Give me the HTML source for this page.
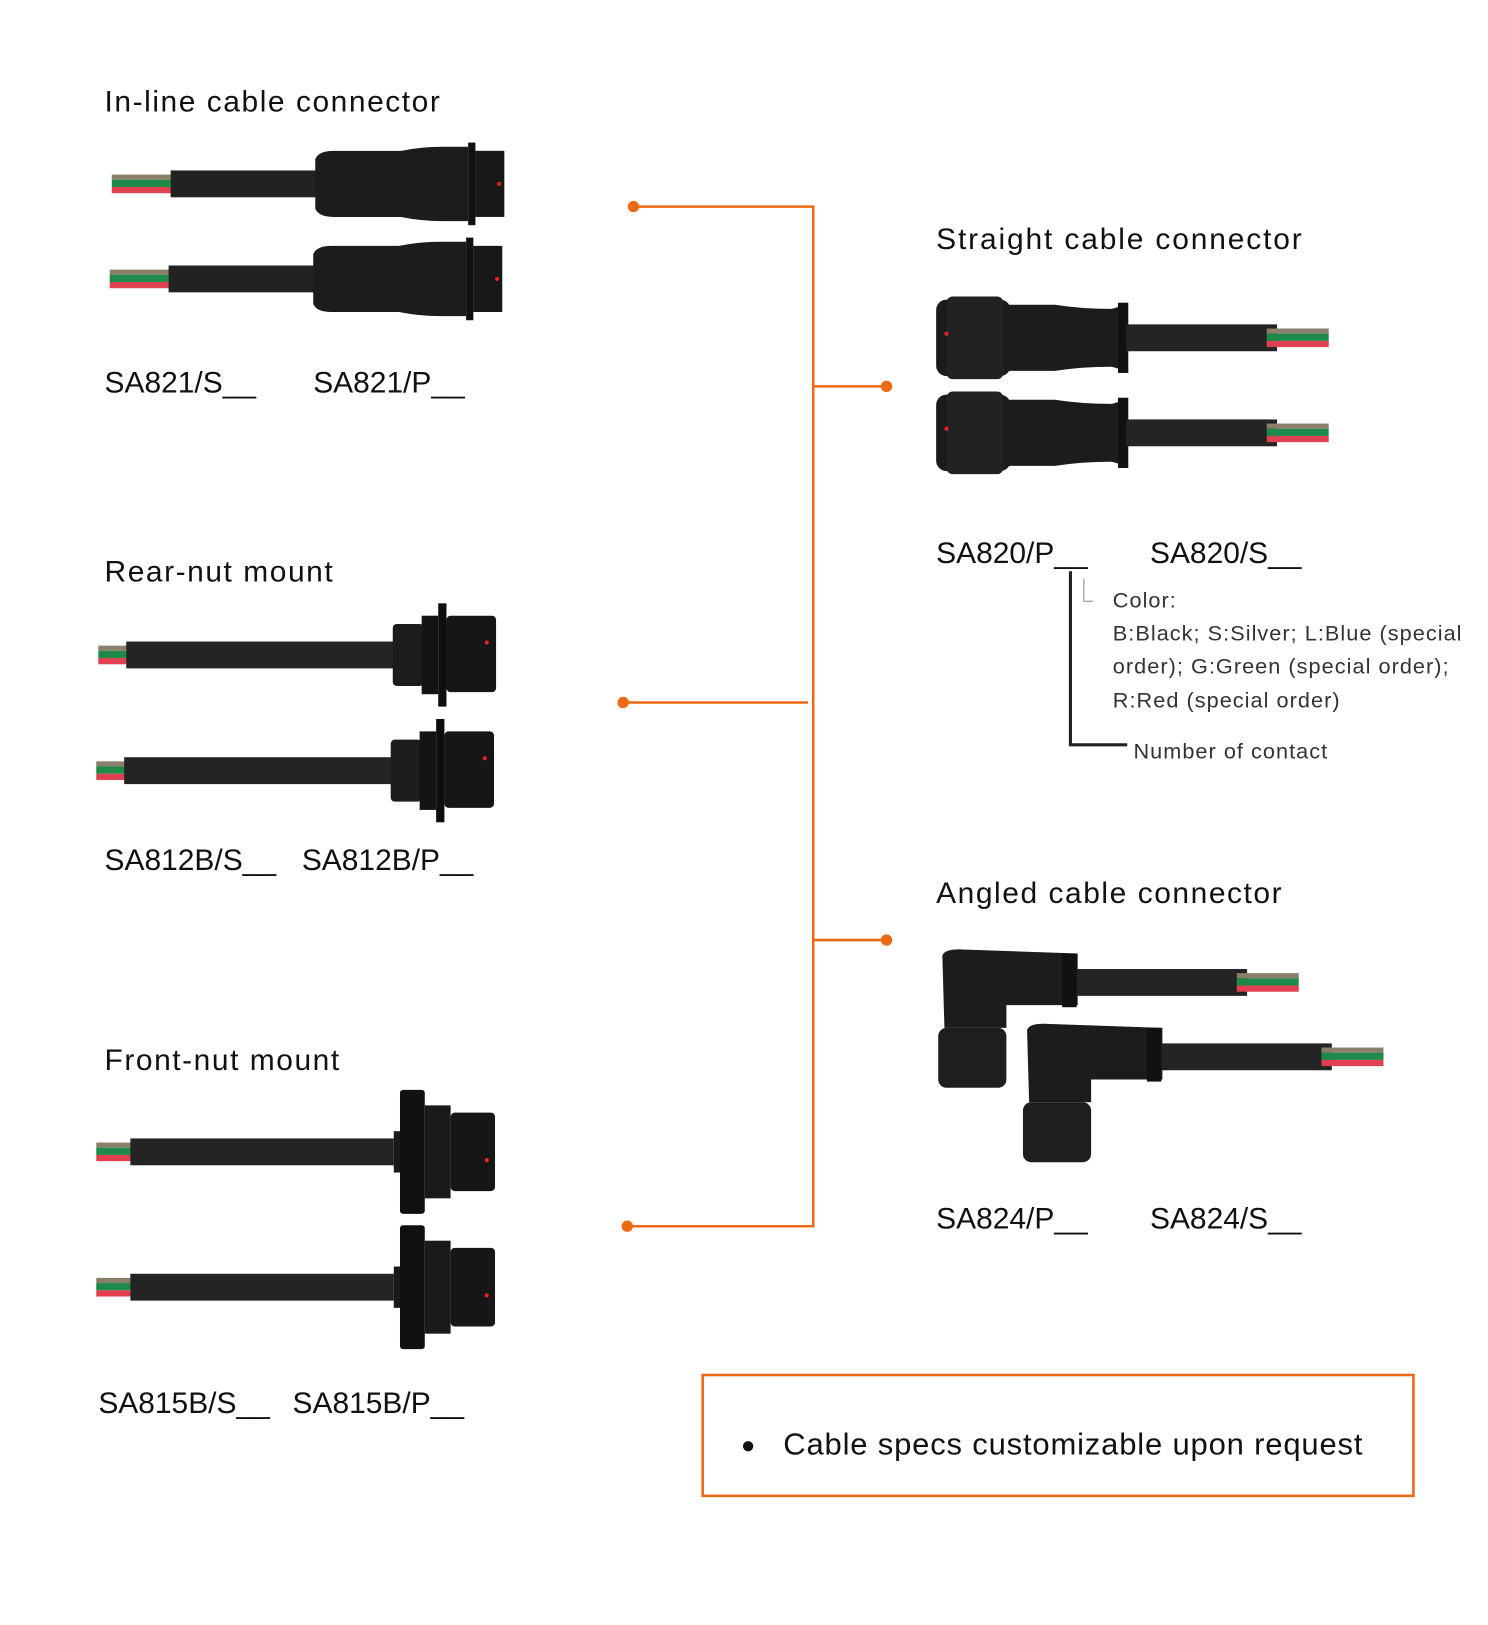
<!DOCTYPE html>
<html><head><meta charset="utf-8"><style>
html,body{margin:0;padding:0;background:#fff;width:1488px;height:1625px;overflow:hidden}
svg{display:block}
text{font-family:"Liberation Sans",sans-serif;fill:#111}
.t{letter-spacing:1.5px}
</style></head><body>
<svg width="1488" height="1625" viewBox="0 0 1440 1573" xmlns="http://www.w3.org/2000/svg">
<defs>
<g id="wires">
<rect x="0" y="-9" width="60" height="5" fill="#8a7f6a"/>
<rect x="0" y="-4" width="60" height="7" fill="#1e8a4a"/>
<rect x="0" y="3" width="60" height="6" fill="#e0404f"/>
</g>
<g id="inline">
<use href="#wires" x="0"/>
<rect x="57" y="-13" width="142" height="26" fill="#222"/>
<path d="M197 -24 Q200 -32 215 -32 L280 -32 Q300 -36 320 -36 L345 -36 L345 36 L320 36 Q300 36 280 32 L215 32 Q200 32 197 24 Z" fill="#1c1c1c"/>
<rect x="345" y="-40" width="7" height="80" fill="#111"/>
<rect x="352" y="-32" width="28" height="64" fill="#181818"/>
<circle cx="375" cy="0" r="2" fill="#e22"/>
</g>
<g id="rear">
<use href="#wires" x="0"/>
<rect x="27" y="-13" width="260" height="26" fill="#242424"/>
<rect x="285" y="-30" width="30" height="60" rx="4" fill="#1c1c1c"/>
<rect x="313" y="-38" width="16" height="76" fill="#141414"/>
<rect x="329" y="-50" width="8" height="100" fill="#0e0e0e"/>
<rect x="337" y="-38" width="48" height="74" rx="4" fill="#161616"/>
<circle cx="376" cy="-12" r="2" fill="#e22"/>
</g>
<g id="front">
<use href="#wires" x="0"/>
<rect x="33" y="-13" width="255" height="26" fill="#242424"/>
<rect x="288" y="-20" width="20" height="40" fill="#1a1a1a"/>
<rect x="294" y="-60" width="24" height="120" rx="3" fill="#101010"/>
<rect x="318" y="-45" width="25" height="90" fill="#1a1a1a"/>
<rect x="343" y="-38" width="43" height="76" rx="4" fill="#161616"/>
<circle cx="378" cy="8" r="2" fill="#e22"/>
</g>
<g id="straight">
<rect x="0" y="-37" width="72" height="74" rx="10" fill="#1b1b1b"/>
<rect x="10" y="-40" width="55" height="80" rx="6" fill="#222"/>
<path d="M70 -32 L115 -32 Q140 -28 170 -28 L184 -32 L184 32 L170 28 Q140 28 115 32 L70 32 Z" fill="#1c1c1c"/>
<rect x="176" y="-34" width="10" height="68" fill="#111"/>
<rect x="184" y="-13" width="146" height="26" fill="#242424"/>
<g transform="translate(380,0) scale(-1,1)"><use href="#wires"/></g>
<circle cx="10" cy="-4" r="2" fill="#e22"/>
</g>
<g id="angled">
<path d="M4 0 Q6 -6 20 -6 L135 -2 L135 48 L66 48 L66 70 L6 70 Z" fill="#1c1c1c"/>
<rect x="0" y="70" width="66" height="58" rx="8" fill="#1e1e1e"/>
<rect x="120" y="-2" width="14" height="52" fill="#111"/>
<rect x="134" y="13" width="165" height="26" fill="#242424"/>
<g transform="translate(349,26) scale(-1,1)"><use href="#wires"/></g>
</g>
</defs>

<text class="t" x="101" y="108" font-size="29">In-line cable connector</text>
<text class="t" x="101" y="563" font-size="29">Rear-nut mount</text>
<text class="t" x="101" y="1036" font-size="29">Front-nut mount</text>

<use href="#inline" x="108" y="178"/>
<use href="#inline" x="106" y="270"/>
<use href="#rear" x="95" y="634"/>
<use href="#rear" x="93" y="746"/>
<use href="#front" x="93" y="1115"/>
<use href="#front" x="93" y="1246"/>

<text x="101" y="380" font-size="29">SA821/S__</text>
<text x="303" y="380" font-size="29">SA821/P__</text>
<text x="101" y="842" font-size="29">SA812B/S__</text>
<text x="292" y="842" font-size="29">SA812B/P__</text>
<text x="95" y="1368" font-size="29">SA815B/S__</text>
<text x="283" y="1368" font-size="29">SA815B/P__</text>

<g stroke="#ec6a14" stroke-width="2.5" fill="none">
<polyline points="613,200 787,200 787,1187 607,1187"/>
<line x1="603" y1="680" x2="782" y2="680"/>
<line x1="787" y1="374" x2="858" y2="374"/>
<line x1="787" y1="910" x2="858" y2="910"/>
</g>
<g fill="#ec6a14">
<circle cx="613" cy="200" r="5.5"/><circle cx="603" cy="680" r="5.5"/><circle cx="607" cy="1187" r="5.5"/>
<circle cx="858" cy="374" r="5.5"/><circle cx="858" cy="910" r="5.5"/>
</g>

<text x="906" y="241" font-size="29" letter-spacing="1.8">Straight cable connector</text>
<use href="#straight" x="906" y="327"/>
<use href="#straight" x="906" y="419"/>
<text x="906" y="545" font-size="29">SA820/P__</text>
<text x="1113" y="545" font-size="29">SA820/S__</text>
<polyline points="1036,553 1036,721 1091,721" stroke="#222" stroke-width="3" fill="none"/>
<polyline points="1049,560 1049,582 1058,582" stroke="#888" stroke-width="1" fill="none"/>
<g font-size="21" letter-spacing="1">
<text x="1077" y="588" style="fill:#333">Color:</text>
<text x="1077" y="620" style="fill:#333">B:Black; S:Silver; L:Blue (special</text>
<text x="1077" y="652" style="fill:#333">order); G:Green (special order);</text>
<text x="1077" y="685" style="fill:#333">R:Red (special order)</text>
<text x="1097" y="734" style="fill:#333">Number of contact</text>
</g>

<text x="906" y="874" font-size="29" letter-spacing="1.5">Angled  cable connector</text>
<use href="#angled" x="908" y="925"/>
<use href="#angled" x="990" y="997"/>
<text x="906" y="1189" font-size="29">SA824/P__</text>
<text x="1113" y="1189" font-size="29">SA824/S__</text>

<rect x="680" y="1331" width="688" height="117" fill="none" stroke="#ec6a14" stroke-width="2.5"/>
<circle cx="724" cy="1400" r="5" fill="#111"/>
<text x="758" y="1408" font-size="30" letter-spacing="0.8">Cable specs customizable upon request</text>
</svg>
</body></html>
